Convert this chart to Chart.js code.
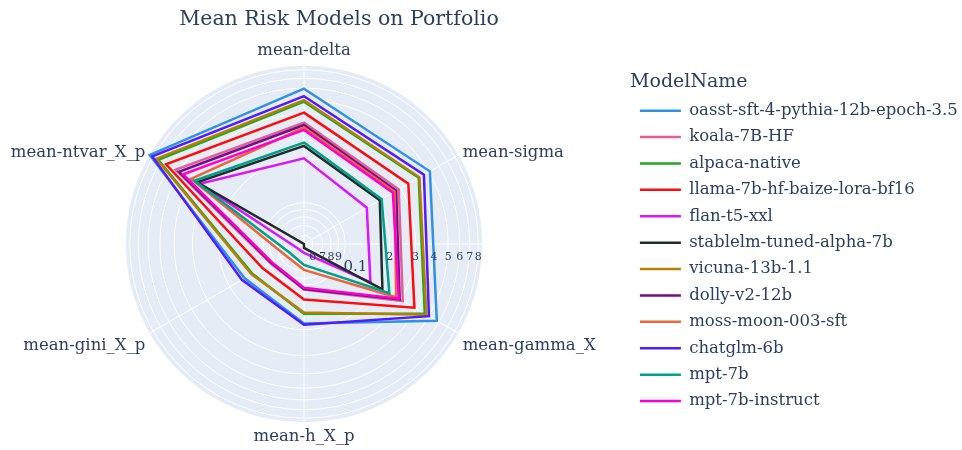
<!DOCTYPE html>
<html>
<head>
<meta charset="utf-8">
<script src="https://cdn.jsdelivr.net/npm/chart.js@4.4.0/dist/chart.umd.min.js"></script>
<style>
html,body{margin:0;padding:0;background:#ffffff;}
canvas{display:block;}
</style>
</head>
<body>
<canvas id="chart" width="962" height="450"></canvas>
<script>
// ---------------- data ----------------
const TITLE = 'Mean Risk Models on Portfolio';
const LEGEND_TITLE = 'ModelName';
const CATEGORIES = ['mean-delta', 'mean-sigma', 'mean-gamma_X', 'mean-h_X_p', 'mean-gini_X_p', 'mean-ntvar_X_p'];
const MODELS = ['oasst-sft-4-pythia-12b-epoch-3.5', 'koala-7B-HF', 'alpaca-native', 'llama-7b-hf-baize-lora-bf16',
  'flan-t5-xxl', 'stablelm-tuned-alpha-7b', 'vicuna-13b-1.1', 'dolly-v2-12b', 'moss-moon-003-sft',
  'chatglm-6b', 'mpt-7b', 'mpt-7b-instruct'];

const oasstValues       = [0.595, 0.509, 0.577, 0.182, 0.153, 0.851];
const koalaValues       = [0.350, 0.290, 0.312, 0.107, 0.0961, 0.534];
const alpacaValues      = [0.486, 0.416, 0.464, 0.156, 0.133, 0.729];
const llamaBaizeValues  = [0.409, 0.345, 0.385, 0.125, 0.111, 0.633];
const flanValues        = [0.200, 0.163, 0.174, 0.0602, 0.0593, 0.345];
const stablelmValues    = [0.243, 0.206, 0.216, 0.0557, 0.0524, 0.361];
const vicunaValues      = [0.497, 0.422, 0.478, 0.153, 0.135, 0.752];
const dollyValues       = [0.337, 0.277, 0.295, 0.106, 0.0946, 0.501];
const mossValues        = [0.324, 0.269, 0.277, 0.0785, 0.0738, 0.403];
const chatglmValues     = [0.529, 0.457, 0.501, 0.185, 0.161, 0.812];
const mpt7bValues       = [0.256, 0.213, 0.245, 0.0726, 0.0682, 0.379];
const mptInstructValues = [0.312, 0.261, 0.290, 0.104, 0.0932, 0.464];

const SERIES = [oasstValues, koalaValues, alpacaValues, llamaBaizeValues, flanValues, stablelmValues,
  vicunaValues, dollyValues, mossValues, chatglmValues, mpt7bValues, mptInstructValues];

const RADIAL_TICKS = [0.06, 0.07, 0.08, 0.09, 0.1, 0.2, 0.3, 0.4, 0.5, 0.6, 0.7, 0.8];
const RADIAL_TICK_LABELS = ['6', '7', '8', '9', '0.1', '2', '3', '4', '5', '6', '7', '8'];
const MAJOR_TICKS = [0.1];

const COLORS = ['#2E91E5', '#E15F99', '#1CA71C', '#FB0D0D', '#DA16FF', '#222A2A',
  '#B68100', '#750D86', '#EB663B', '#511CFB', '#00A08B', '#FB00D1'];

// ---------------- log radial scale ----------------
const FONT = '"DejaVu Serif", serif';
const TEXT_COLOR = '#2a3f5f';
const Base = Chart.RadialLinearScale || Chart.registry.getScale('radialLinear');

class RadialLogScale extends Base {
  static id = 'radialLog';
  static defaults = Base.defaults;
  getDistanceFromCenterForValue(value) {
    if (value === null || value === undefined || isNaN(value)) return NaN;
    const lmin = Math.log10(this.min), lmax = Math.log10(this.max);
    return (Math.log10(value) - lmin) / (lmax - lmin) * this.drawingArea;
  }
  getValueForDistanceFromCenter(distance) {
    const lmin = Math.log10(this.min), lmax = Math.log10(this.max);
    return Math.pow(10, lmin + distance / this.drawingArea * (lmax - lmin));
  }
  setCenterPoint(l, r, t, b) {
    super.setCenterPoint(l, r, t, b);
    this.xCenter += (this.options.centerOffsetX || 0);
  }
  buildTicks() {
    const ticks = [{value: this.min}];
    RADIAL_TICKS.forEach(v => { if (v > this.min && v < this.max) ticks.push({value: v}); });
    return ticks;
  }
  drawGrid(chartArea) {
    super.drawGrid(chartArea);
    const ctx = this.ctx;
    ctx.save();
    ctx.strokeStyle = '#ffffff';
    ctx.lineWidth = 1;
    ctx.beginPath();
    ctx.moveTo(this.xCenter, this.yCenter);
    ctx.lineTo(this.xCenter + this.drawingArea, this.yCenter);
    ctx.stroke();
    ctx.restore();
  }
  drawLabels() {
    const ctx = this.ctx;
    ctx.save();
    ctx.fillStyle = TEXT_COLOR;
    ctx.textAlign = 'center';
    ctx.textBaseline = 'middle';
    this.ticks.forEach(t => {
      if (!t.label) return;
      const d = this.getDistanceFromCenterForValue(t.value);
      const isMajor = MAJOR_TICKS.includes(t.value);
      ctx.font = (isMajor ? 15 : 11) + 'px ' + FONT;
      ctx.fillText(t.label, this.xCenter + d + (isMajor ? 10 : 0), this.yCenter + (isMajor ? 23.5 : 13.5));
    });
    ctx.restore();
  }
}
Chart.register(RadialLogScale);

const allValues = SERIES.flat();
const R_MIN = Math.min(...allValues);
const R_MAX = Math.max(...allValues);

const titlePlugin = {
  id: 'plotTitle',
  afterDraw(chart) {
    const ctx = chart.ctx;
    ctx.save();
    ctx.font = '20.5px ' + FONT;
    ctx.fillStyle = TEXT_COLOR;
    ctx.textAlign = 'center';
    ctx.textBaseline = 'middle';
    ctx.fillText(TITLE, 339, 20);
    ctx.restore();
  }
};

Chart.defaults.font.family = FONT;
Chart.defaults.color = TEXT_COLOR;

const datasets = MODELS.map((name, i) => ({
  label: name,
  data: SERIES[i],
  borderColor: COLORS[i],
  backgroundColor: COLORS[i],
  borderWidth: 2.5,
  pointRadius: 0,
  pointHoverRadius: 0,
  fill: false,
  order: MODELS.length - i
}));

new Chart(document.getElementById('chart'), {
  type: 'radar',
  data: { labels: CATEGORIES, datasets },
  options: {
    responsive: false,
    animation: false,
    devicePixelRatio: 1,
    layout: { padding: { left: 0, top: 41, right: 0, bottom: 2 } },
    scales: {
      r: {
        type: 'radialLog',
        min: R_MIN,
        max: R_MAX,
        startAngle: 0,
        centerOffsetX: -11,
        backgroundColor: '#E5ECF6',
        grid: { circular: true, color: '#ffffff', lineWidth: 1 },
        angleLines: { color: '#ffffff', lineWidth: 1 },
        ticks: {
          display: false,
          z: 1,
          callback: (v) => { const k = RADIAL_TICKS.indexOf(v); return k >= 0 ? RADIAL_TICK_LABELS[k] : ''; }
        },
        pointLabels: {
          color: TEXT_COLOR,
          padding: 5,
          font: (ctx) => ({ family: FONT, size: 16.5, lineHeight: (ctx.index === 1 || ctx.index === 5) ? 0 : 1.2 })
        }
      }
    },
    plugins: {
      tooltip: { enabled: false },
      legend: {
        position: 'right',
        align: 'start',
        maxWidth: 332,
        title: { display: true, position: 'start', text: LEGEND_TITLE, color: TEXT_COLOR, font: { family: FONT, size: 19, lineHeight: 1 }, padding: { top: 31.5, bottom: 1 } },
        labels: {
          usePointStyle: true,
          pointStyle: 'line',
          pointStyleWidth: 41,
          padding: 9.9,
          color: TEXT_COLOR,
          font: { family: FONT, size: 16.5 },
          sort: (a, b) => a.datasetIndex - b.datasetIndex
        }
      }
    }
  },
  plugins: [titlePlugin]
});
</script>
</body>
</html>
